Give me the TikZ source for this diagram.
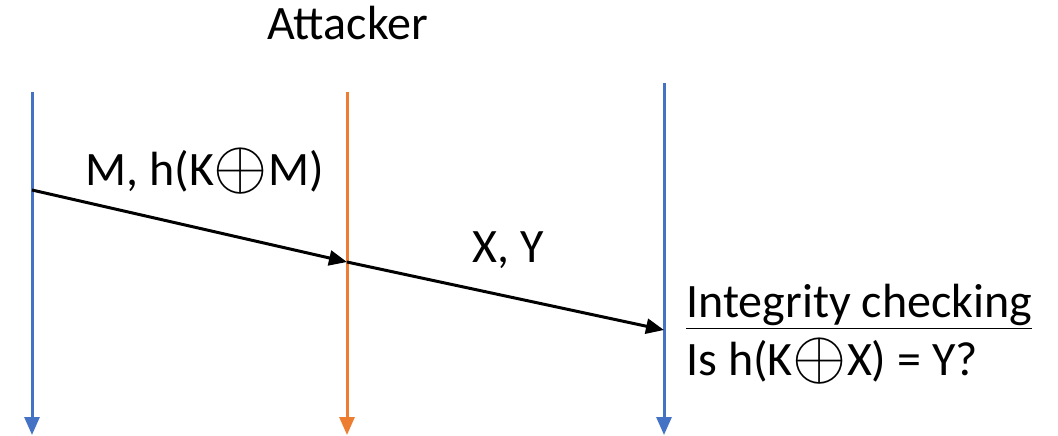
\documentclass[tikz,border=0pt]{standalone}
\usepackage{fontspec}
\setmainfont{Carlito}
\usetikzlibrary{arrows.meta}

\definecolor{lineblue}{HTML}{4472C4}
\definecolor{lineorange}{HTML}{ED7D31}
% circled plus for the xor, a bit larger than the letters
\newcommand{\xorop}{\raisebox{-1.6pt}{\scalebox{1.4}{$\oplus$}}}

\begin{document}
\begin{tikzpicture}[x=0.5pt,y=0.5pt,
    lifeline/.style={line width=1.5pt, -{Triangle[length=9pt,width=7.5pt]}},
    message/.style={line width=1.5pt, -{Triangle[length=9pt,width=7.5pt]}},
    msglabel/.style={font=\fontsize{24}{29}\selectfont, inner sep=0pt, anchor=base west}]

    \useasboundingbox (0,0) rectangle (1058,435);

    % Lifelines: sender, attacker in the middle, receiver
    \coordinate (sendtop) at (32,343);
    \coordinate (sendbot) at (32,0);
    \coordinate (attop) at (347,343);
    \coordinate (atbot) at (347,0);
    \coordinate (recvtop) at (664,352);
    \coordinate (recvbot) at (664,0);

    \draw[lifeline, lineblue] (sendtop) -- (sendbot);
    \draw[lifeline, lineorange] (attop) -- (atbot);
    \draw[lifeline, lineblue] (recvtop) -- (recvbot);

    % Points where the messages leave and arrive
    \coordinate (send) at (32,245);
    \coordinate (relay) at (347,173);
    \coordinate (recv) at (664,105);

    \draw[message] (send) -- (relay);
    \draw[message] (relay) -- (recv);

    % Labels
    \node[msglabel] (attacker) at (267,395) {Attacker};
    \node[msglabel] (orig) at (85,250) {M, h(K\xorop M)};
    \node[msglabel] (forged) at (472,173) {X, Y};
    \node[msglabel] (check) at (686,118) {\underline{Integrity checking}};
    \node[msglabel] (test) at (686,60) {Is h(K\xorop X) = Y?};
\end{tikzpicture}
\end{document}
